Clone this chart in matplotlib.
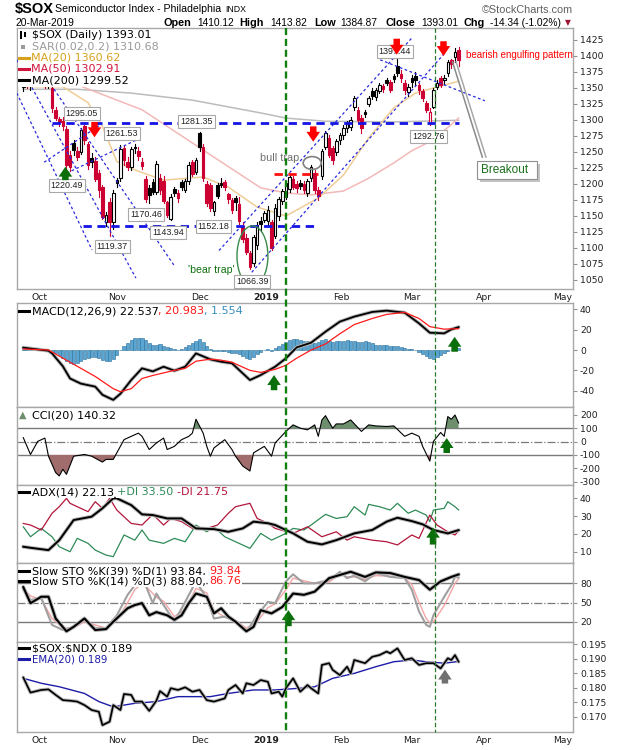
import numpy as np
import matplotlib
matplotlib.use('Agg')
import matplotlib.pyplot as plt
from matplotlib.patches import Rectangle, Ellipse, FancyArrowPatch
from matplotlib.lines import Line2D
import matplotlib.transforms as mtransforms

plt.rcParams['font.family'] = 'DejaVu Sans'

# ---------------- data ----------------
# x = trading-day index: 0 = 24-Sep-2018 ... 121 = 20-Mar-2019
opens = [1352, 1356, 1354, 1360, 1366, 1368, 1360, 1356, 1350, 1316,
         1301, 1298, 1286, 1246, 1264, 1252, 1250, 1290, 1262, 1240,
         1236, 1217, 1196, 1140, 1172, 1140, 1206, 1210, 1257, 1235,
         1226, 1258, 1252, 1234, 1208, 1194, 1203, 1188, 1209, 1205,
         1172, 1146, 1192, 1186, 1203, 1191, 1204, 1234, 1219, 1280,
         1258, 1200, 1198, 1158, 1198, 1202, 1203, 1184, 1175, 1178,
         1168, 1135, 1115, 1092, 1076, 1105, 1142, 1144, 1142, 1140,
         1118, 1150, 1174, 1180, 1192, 1208, 1200, 1202, 1200, 1186,
         1209, 1217, 1190, 1212, 1258, 1272, 1256, 1250, 1268, 1276,
         1288, 1289, 1320, 1315, 1303, 1312, 1325, 1345, 1336, 1346,
         1353, 1363, 1359, 1368, 1384, 1372, 1358, 1344, 1366, 1368,
         1355, 1345, 1326, 1296, 1320, 1352, 1365, 1362, 1373, 1393,
         1398, 1410.12]
highs = [1362, 1366, 1362, 1372, 1374, 1376, 1365, 1366, 1352, 1320,
         1305, 1304, 1290, 1252, 1268, 1258, 1287, 1295.05, 1265, 1248,
         1242, 1222, 1198, 1156, 1178, 1190, 1210, 1261.53, 1260, 1242,
         1258, 1262, 1258, 1240, 1212, 1198, 1208, 1236, 1215, 1212,
         1174, 1184, 1196, 1190, 1206, 1208, 1234, 1238, 1240, 1281.35,
         1262, 1205, 1202, 1174, 1202, 1210, 1206, 1186, 1178, 1182,
         1180, 1140, 1122, 1095, 1120, 1140, 1148, 1158, 1166, 1143,
         1168, 1180, 1192, 1204, 1214, 1212, 1204, 1206, 1204, 1208,
         1230, 1222, 1196, 1255, 1283, 1276, 1260, 1270, 1280, 1292,
         1298, 1304, 1338, 1320, 1308, 1315, 1338, 1350, 1350, 1358,
         1356, 1366, 1362, 1372, 1397.44, 1378, 1362, 1356, 1370, 1375,
         1358, 1348, 1330, 1318, 1350, 1362, 1368, 1370, 1393, 1396,
         1412, 1413.82]
lows = [1346, 1350, 1347, 1355, 1358, 1360, 1350, 1350, 1312, 1300,
        1290, 1284, 1225, 1220.49, 1245, 1238, 1247, 1262, 1224, 1226,
        1205, 1180, 1145, 1135, 1119.37, 1130, 1195, 1205, 1230, 1222,
        1222, 1248, 1238, 1224, 1172, 1170.46, 1185, 1184, 1185, 1170,
        1148, 1143.94, 1182, 1172, 1190, 1188, 1200, 1212, 1216, 1252,
        1205, 1165, 1158, 1152.18, 1178, 1195, 1190, 1170, 1155, 1160,
        1138, 1110, 1090, 1066.39, 1072, 1098, 1128, 1140, 1136, 1097,
        1115, 1144, 1168, 1176, 1188, 1192, 1188, 1192, 1186, 1182,
        1205, 1186, 1175, 1208, 1255, 1242, 1232, 1246, 1262, 1270,
        1282, 1284, 1316, 1296, 1280, 1305, 1322, 1333, 1332, 1342,
        1344, 1354, 1344, 1360, 1368, 1360, 1340, 1338, 1352, 1355,
        1340, 1330, 1312, 1292.76, 1318, 1348, 1352, 1356, 1368, 1382,
        1390, 1384.87]
closes = [1356, 1353, 1359, 1368, 1364, 1362, 1355, 1362, 1318, 1303,
          1297, 1290, 1229, 1226, 1253, 1242, 1284, 1268, 1230, 1234,
          1208, 1190, 1148, 1152, 1140, 1186, 1201, 1255, 1238, 1226,
          1254, 1256, 1244, 1228, 1176, 1183, 1188, 1232, 1190, 1174,
          1152, 1180, 1186, 1178, 1196, 1204, 1230, 1215, 1238, 1258,
          1209, 1170, 1162, 1172, 1182, 1198, 1195, 1176, 1160, 1172,
          1142, 1114, 1093, 1070, 1117, 1136, 1138, 1154, 1160, 1100,
          1163, 1176, 1189, 1202, 1211, 1196, 1194, 1197, 1190, 1205,
          1226, 1190, 1182, 1252, 1280, 1246, 1238, 1267, 1276, 1288,
          1294, 1300, 1334, 1300, 1288, 1309, 1334, 1338, 1347, 1354,
          1349, 1358, 1347, 1364, 1373, 1365, 1347, 1352, 1360, 1362,
          1347, 1335, 1316, 1312, 1347, 1358, 1355, 1366, 1391, 1388,
          1406, 1393.01]

ma20_x = [0, 11, 18, 22, 26, 31, 39, 50, 57, 65, 73, 82, 89, 96, 103, 109, 114, 121]
ma20_y = [1352, 1352, 1327, 1290, 1235, 1222, 1206, 1211, 1195, 1164, 1150, 1178, 1214, 1272, 1319, 1342, 1350, 1360.62]
ma50_x = [0, 15, 33, 50, 66, 73, 80, 89, 96, 103, 108, 114, 121]
ma50_y = [1368, 1355, 1316, 1253, 1194, 1186, 1183, 1189, 1209, 1233, 1252, 1269, 1302.91]
ma200_x = [0, 15, 30, 47, 66, 73, 84, 103, 121]
ma200_y = [1348, 1348, 1342, 1331, 1311, 1303, 1298, 1297, 1299.52]

macd_x = [0, 7, 8, 11, 13, 16, 20, 22, 25, 27, 30, 33, 36, 39, 42, 45, 48, 52, 55, 58, 63, 66,
          70, 73, 76, 80, 84, 88, 92, 97, 101, 106, 110, 113, 117, 119, 121]
macd_y = [2.3, -0.7, -3.3, -16, -28, -33, -36, -44, -49, -43, -29.5, -18, -21, -16.4, -20.3, -16.4,
          -3.3, -9.2, -11.5, -13, -29.5, -24.6, -16.4, -8.2, 2.6, 7.2, 18, 27.9, 32.8, 37.4, 38.7,
          36.7, 26.2, 17, 16.4, 20.3, 22.537]
signal_x = [0, 7, 11, 16, 20, 25, 27, 30, 33, 36, 42, 45, 48, 52, 55, 58, 63, 66, 70, 73, 76, 80,
            84, 88, 92, 97, 101, 106, 110, 113, 117, 121]
signal_y = [1, 0, -8, -18, -26, -38, -41, -38, -28, -25, -20, -18, -11, -9, -10, -12, -20, -22, -19,
            -15, -8, 0, 6, 16, 25, 31, 35, 37, 31, 23, 20.5, 20.983]
macd_hist = [1.5, 1.5, 1.2, 1.0, 0.8, 0.5, 0, -0.5, -1.5, -3,
             -5, -8, -11, -13, -14, -13, -11, -9, -8, -7,
             -7, -8, -10, -11, -11, -9, -5, 0, 4, 7,
             10, 11.5, 12, 11.5, 10, 7, 5, 5, 6, 4,
             3, 2, 1, 0.5, 1, 3, 5, 7, 9, 10.5,
             8, 4, 1, -1, -1, -0.5, -1, -2, -3, -3,
             -4, -6, -8, -9, -7, -4, -2, 0, 1, -1,
             2, 4, 6, 8, 10, 11, 11, 10, 9, 9,
             8, 7, 8, 10, 11, 9, 8, 9, 9, 9,
             10, 9, 9, 8, 8, 9, 8, 7, 5, 5,
             5, 5, 4, 4, 4, 3, 2, 1, 1, 0,
             -2, -4, -6, -8, -9, -7, -5, -3, -1, 0.5,
             1.5, 1.554]

cci_x = [0, 2, 4, 6, 7, 9, 10, 11, 12, 14, 17, 19, 22, 23, 25, 28, 30, 32, 33, 35, 37, 39, 40, 42,
         44, 46, 47, 48, 50, 51, 52, 53, 56, 58, 59, 61, 63, 64, 67, 69, 70, 73, 75, 77, 79, 81, 82,
         83, 84, 86, 87, 89, 91, 94, 96, 98, 101, 103, 106, 108, 110, 111, 113, 114, 116, 117, 118,
         119, 120, 121]
cci_y = [30, -96, 2, 27, -109, -232, -257, -207, -245, -109, -96, -109, -153, -133, -133, 15, 40, 64,
         40, -59, -10, 27, -59, -35, 15, 40, 64, 168, 64, -35, -109, -47, 15, -59, -109, -183, -220,
         -84, -35, -109, -10, 77, 126, 101, 89, 126, 40, 163, 195, 101, 133, 133, 163, 77, 126, 118,
         114, 118, 40, 64, 40, -35, -146, 2, 69, 40, 188, 168, 200, 140.32]

adx_x = [0, 2, 7, 10, 14, 19, 22, 25, 26, 30, 33, 36, 40, 44, 48, 53, 57, 61, 64, 68, 70, 75, 79,
         83, 87, 92, 97, 101, 104, 108, 111, 114, 118, 121]
adx_y = [12.8, 12.2, 10.9, 16.5, 27.8, 29.7, 34.4, 40, 40, 36.2, 31, 30.6, 28.7, 28.7, 23.1, 22.7,
         21.2, 23.1, 26.9, 26, 25, 20.3, 15.6, 14.1, 16.5, 20.3, 22.2, 26.9, 29.1, 27.2, 25.4, 22.2,
         20.3, 22.13]
pdi_x = [0, 2, 5, 8, 10, 13, 15, 18, 20, 23, 25, 28, 31, 33, 35, 39, 42, 45, 48, 51, 53, 56, 59,
         63, 66, 69, 73, 75, 78, 80, 84, 87, 90, 92, 95, 96, 99, 102, 104, 107, 109, 112, 113, 114,
         117, 118, 120, 121]
pdi_y = [24, 18.4, 23.1, 18.4, 12.8, 10, 17.5, 14.7, 10.9, 8.1, 7.2, 19.4, 16.5, 22.2, 16.5, 14.7,
         17.5, 15.6, 25, 21.2, 24, 18.4, 15.6, 11.9, 20.3, 16.5, 20.3, 23.1, 22.2, 25, 31, 28.7, 29.7,
         35.3, 30.6, 36.6, 35.3, 33.4, 37.2, 31.6, 33.4, 30.6, 26.9, 33.4, 34.4, 38.1, 35.3, 33.5]
mdi_x = [0, 2, 5, 8, 10, 12, 13, 15, 18, 20, 22, 24, 26, 30, 33, 36, 39, 41, 44, 47, 51, 54, 57,
         59, 63, 65, 68, 70, 75, 79, 83, 87, 90, 92, 97, 101, 104, 108, 110, 113, 115, 118, 120, 121]
mdi_y = [25.9, 25, 22.2, 31.6, 35.3, 40, 37.2, 35.3, 32.5, 38.1, 34.4, 40, 33.4, 25.9, 25, 31, 25,
         28.7, 26.9, 23.1, 23.1, 25, 31.6, 35.3, 37.2, 28.7, 26, 23.1, 20.3, 24, 18.4, 21.2, 16.5,
         18.4, 16.5, 15.6, 13.8, 19.4, 17.5, 30.6, 25, 21.2, 19.4, 21.75]

sto39_x = [0, 2, 5, 7, 9, 12, 14, 17, 20, 23, 25, 29, 31, 33, 35, 37, 40, 42, 44, 46, 48, 51, 53,
           55, 57, 59, 62, 64, 66, 69, 72, 75, 78, 81, 85, 88, 91, 95, 98, 102, 106, 110, 113, 116,
           119, 121]
sto39_y = [74, 49, 59, 59, 25, 5, 12, 25, 7, 8.5, 20, 41, 46, 49, 30, 35, 30, 23, 30, 49, 64, 59,
           33, 41, 28, 20, 5, 12, 38, 33, 43, 64, 62, 67, 88, 93, 98, 90, 97, 96, 90, 85, 70, 83, 90,
           93.84]
sto14_x = [0, 2, 5, 8, 11, 14, 17, 20, 23, 26, 29, 31, 32, 34, 36, 37, 39, 42, 45, 48, 51, 53, 56,
           59, 62, 65, 68, 70, 73, 75, 78, 81, 85, 88, 90, 92, 95, 98, 102, 106, 108, 110, 112, 113,
           114, 117, 119, 120, 121]
sto14_y = [70, 54, 57, 15, 7, 12, 26, 10, 10, 30, 62, 77, 83, 77, 49, 64, 46, 20, 51, 83, 57, 25,
           28, 20, 4, 30, 51, 49, 83, 94, 80, 80, 85, 98, 88, 92, 83, 96, 90, 88, 70, 36, 15, 12, 30,
           59, 77, 90, 88.90]
sto14d_x = [0, 2, 5, 8, 11, 14, 17, 20, 23, 26, 29, 31, 33, 35, 37, 39, 42, 45, 48, 51, 53, 56, 59,
            62, 65, 68, 70, 73, 75, 78, 81, 85, 88, 90, 92, 95, 98, 102, 106, 108, 110, 112, 113,
            114, 117, 119, 120, 121]
sto14d_y = [72, 60, 55, 25, 10, 10, 20, 15, 10, 22, 50, 70, 80, 70, 58, 52, 28, 40, 72, 65, 38, 27,
            22, 10, 20, 42, 48, 70, 88, 84, 80, 82, 94, 90, 90, 86, 92, 91, 88, 78, 50, 25, 18, 20,
            45, 68, 80, 86.76]

ratio_x = [0, 1, 2, 5, 7, 9, 11, 13, 15, 17, 19, 21, 22, 24, 25, 27, 28, 30, 31, 33, 35, 37, 38,
           40, 41, 43, 45, 47, 49, 51, 53, 56, 57, 59, 61, 62, 64, 66, 68, 69, 71, 72, 73, 75, 77,
           79, 80, 82, 83, 85, 86, 88, 90, 91, 92, 95, 97, 99, 101, 102, 104, 106, 108, 110, 112,
           114, 116, 118, 119, 120, 121]
ratio_y = [0.1835, 0.1809, 0.1783, 0.1792, 0.1794, 0.1775, 0.1757, 0.1755, 0.1752, 0.1740, 0.1723,
           0.1717, 0.1671, 0.1683, 0.1740, 0.1723, 0.1778, 0.1775, 0.1752, 0.1752, 0.1720, 0.1755,
           0.1788, 0.1769, 0.1798, 0.1792, 0.1801, 0.1786, 0.1792, 0.1757, 0.1752, 0.1763, 0.1792,
           0.1809, 0.1780, 0.1815, 0.1809, 0.1826, 0.1820, 0.1780, 0.1786, 0.1769, 0.1798, 0.1832,
           0.1786, 0.1809, 0.1798, 0.1780, 0.1878, 0.1884, 0.1861, 0.1843, 0.1872, 0.1849, 0.1895,
           0.1884, 0.1906, 0.1912, 0.1924, 0.1918, 0.1935, 0.1895, 0.1901, 0.1878, 0.1884, 0.1884,
           0.1866, 0.1901, 0.1895, 0.1912, 0.1889]
ema_x = [0, 5, 10, 17, 21, 25, 31, 37, 43, 52, 57, 64, 70, 77, 81, 86, 92, 98, 103, 108, 112, 117, 121]
ema_y = [0.1832, 0.1815, 0.1803, 0.1780, 0.1752, 0.1734, 0.1746, 0.1752, 0.1769, 0.1769, 0.1780,
         0.1792, 0.1792, 0.1798, 0.1803, 0.1832, 0.1849, 0.1872, 0.1889, 0.1895, 0.1889, 0.1884,
         0.1890]

month_pos = [4.5, 26, 49, 67.5, 88.5, 108, 128, 150]
month_lab = ['Oct', 'Nov', 'Dec', '2019', 'Feb', 'Mar', 'Apr', 'May']

# price notes: (day index, price where the box sits, text)
price_notes = [(16.3, 1310, '1295.05'), (27.4, 1279, '1261.53'), (12.1, 1198, '1220.49'),
               (24.7, 1102, '1119.37'), (34.1, 1152, '1170.46'), (40.2, 1124, '1143.94'),
               (48.1, 1297, '1281.35'), (52.9, 1133, '1152.18'), (63.6, 1048, '1066.39'),
               (103.3, 1407, '1397.44'), (112.6, 1274.5, '1292.76')]

# hand drawn trend lines (day index, price)
steep_lines = [((-1.8, 1394), (31.3, 1053)), ((7.7, 1355), (41.9, 1073)), ((-1.8, 1342), (19.1, 1097)),
               ((5.8, 1234), (21.3, 1292)), ((12.1, 1217), (33, 1273)),
               ((54.4, 1096), (108.3, 1430)), ((63.5, 1062), (117.2, 1405)), ((99.2, 1394), (128.3, 1330))]

W, H = 620, 750
XL = (-1.86, 152.8)
RED = '#cc0033'


def fx(x):
    return x / W


def fy(y):
    return 1 - y / H


fig = plt.figure(figsize=(W / 100, H / 100), dpi=100)
renderer = fig.canvas.get_renderer()


def panel(top, bottom, ylim, yticks, fmt='%g'):
    ax = fig.add_axes([fx(16.6), fy(bottom), fx(573) - fx(16.6), (bottom - top) / H])
    ax.set_xlim(*XL)
    ax.set_ylim(*ylim)
    ax.yaxis.tick_right()
    ax.set_yticks(yticks)
    ax.set_yticklabels([fmt % v for v in yticks])
    ax.tick_params(axis='y', length=3, width=0.8, color='#909090', labelsize=6.7, pad=2,
                   labelcolor='#202020')
    ax.set_xticks([])
    for s in ax.spines.values():
        s.set_color('#a8a8a8')
        s.set_linewidth(1)
    return ax


def months(ax):
    ax.set_xticks(month_pos)
    ax.set_xticklabels(month_lab)
    ax.tick_params(axis='x', length=0, labelsize=6.7, pad=3, labelcolor='#202020')
    for t in ax.get_xticklabels():
        if t.get_text() == '2019':
            t.set_fontweight('bold')


def arrow(ax, x, tip, base, color):
    ax.add_patch(FancyArrowPatch((x, base), (x, tip),
                                 arrowstyle='simple,head_width=0.75,head_length=0.55,tail_width=0.36',
                                 mutation_scale=13, color=color, lw=0, shrinkA=0, shrinkB=0, zorder=7))


def text_width(s, size, family, weight='normal'):
    t = fig.text(0, 0, s, fontsize=size, family=family, weight=weight)
    w = t.get_window_extent(renderer=renderer).width
    t.remove()
    return w


def pieces(x, y, parts, size=8, dash=None, bg=True, family='DejaVu Sans'):
    # each part is right-aligned at the end of the running string, so spaces are kept
    if dash:
        fig.add_artist(Line2D([fx(x), fx(x + 10)], [fy(y), fy(y)], color=dash, lw=2.2, zorder=4))
        x += 12
    cum = ''
    for s, c in parts:
        cum += s
        w = text_width(cum, size, family)
        kw = dict(bbox=dict(fc='white', ec='none', pad=0.6)) if bg else {}
        fig.text(fx(x + w), fy(y), s.strip(), color=c, fontsize=size, family=family, ha='right',
                 va='center', zorder=4, **kw)


def gline(ax, xs, ys, color, lw, shadow=False):
    if shadow:
        ax.plot(xs, ys, color='#b8b8b8', lw=lw + 1.4, solid_capstyle='round', zorder=2)
    ax.plot(xs, ys, color=color, lw=lw, zorder=3)


# ---------------- price panel ----------------
ax = panel(28, 289, (1035.9, 1443.75), list(range(1050, 1426, 25)), '%d')
months(ax)
ax.plot(ma200_x, ma200_y, color='#bcbcbc', lw=1.1, zorder=2)
ax.plot(ma50_x, ma50_y, color='#f3b8b8', lw=1.1, zorder=2)
ax.plot(ma20_x, ma20_y, color='#f0cd96', lw=1.1, zorder=2)

for i in range(len(closes)):
    o, h, l, c = opens[i], highs[i], lows[i], closes[i]
    prev = closes[i - 1] if i else c
    col = RED if c < prev else 'black'
    lo_b, hi_b = min(o, c), max(o, c)
    if hi_b - lo_b < 1.6:
        hi_b = lo_b + 1.6
    ax.plot([i, i], [l, lo_b], color=col, lw=0.8, zorder=3)
    ax.plot([i, i], [hi_b, h], color=col, lw=0.8, zorder=3)
    fc = 'white' if c >= o else col
    ax.add_patch(Rectangle((i - 0.36, lo_b), 0.72, hi_b - lo_b, fc=fc, ec=col, lw=0.8, zorder=3))

for (x0, y0), (x1, y1) in steep_lines:
    ax.plot([x0, x1], [y0, y1], color='#2a2ae0', lw=0.9, ls=(0, (2.2, 2)), zorder=4)
ax.plot([8, 121], [1295, 1295], color='#1414e6', lw=2, ls=(0, (3, 2)), zorder=4)
ax.plot([16.6, 80.8], [1135, 1135], color='#1414e6', lw=2, ls=(0, (3, 2)), zorder=4)
ax.plot([69.7, 81.9], [1216, 1216], color='#ff1010', lw=2, ls=(0, (3, 2)), zorder=4)

for xi, yp, s in price_notes:
    ax.text(xi, yp, s, fontsize=6.4, family='Liberation Sans', ha='center', va='center', color='#202020',
            bbox=dict(boxstyle='square,pad=0.22', fc='white', ec='#a8a8a8', lw=0.8), zorder=6)

for xi, tip, base in [(19.8, 1273, 1297), (80.6, 1266, 1290), (103.8, 1402, 1427), (116.8, 1400, 1423)]:
    arrow(ax, xi, tip, base, '#ff0000')
arrow(ax, 11.7, 1227, 1206, '#0a6e0a')

ax.add_patch(Ellipse((63.7, 1087.5), 8.6, 94, fill=False, ec='#3a8a4a', lw=1, zorder=5))
ax.add_patch(Ellipse((80.3, 1232.8), 5, 20, fill=False, ec='#808080', lw=1.2, zorder=5))
ax.text(80.3 - 3.6, 1240, 'bull trap', fontsize=7.8, family='Liberation Sans', color='#707070',
        ha='right', va='center', zorder=6)
ax.text(52.4, 1066, "'bear trap'", fontsize=7.6, family='Liberation Sans', color='#107010',
        ha='center', va='center', zorder=6)
ax.text(123, 1402, 'bearish engulfing pattern', fontsize=7.0, family='Liberation Sans',
        color='#ff0000', ha='left', va='center', zorder=6, clip_on=False)
ax.plot([119.3, 127.6], [1391, 1242], color='#8a8a8a', lw=1.1, zorder=5)
ax.plot([120.3, 128.6], [1391, 1242], color='#a8a8a8', lw=1.1, zorder=5)

# ---------------- MACD ----------------
axm = panel(303, 407, (-56, 46.2), [-40, -20, 0, 20, 40])
axm.bar(range(len(macd_hist)), macd_hist, width=0.85, color='#5aa5d2', edgecolor='#2a6f9a', lw=0.4,
        zorder=2)
gline(axm, macd_x, macd_y, 'black', 1.3, shadow=True)
axm.plot(signal_x, signal_y, color='#ff1a1a', lw=0.9, zorder=3)
arrow(axm, 69.7, -24.6, -39.5, '#0a6e0a')
arrow(axm, 119.9, 13, -1.7, '#0a6e0a')

# ---------------- CCI ----------------
axc = panel(407, 485, (-325, 260), [-300, -200, -100, 0, 100, 200])
for lv in (100, -100):
    axc.axhline(lv, color='#7a7a7a', lw=1, zorder=1)
axc.axhline(0, color='#7a7a7a', lw=0.9, ls='-.', zorder=1)
cx, cy = np.array(cci_x), np.array(cci_y)
axc.fill_between(cx, cy, 100, where=cy > 100, interpolate=True, color='#6e8f6e', lw=0, zorder=2)
axc.fill_between(cx, cy, -100, where=cy < -100, interpolate=True, color='#a06c6c', lw=0, zorder=2)
axc.plot(cx, cy, color='black', lw=0.8, zorder=3)
arrow(axc, 117.7, 27, -85, '#0a6e0a')

# ---------------- ADX ----------------
axa = panel(485, 563, (3.65, 47.5), [10, 20, 30, 40])
axa.plot(pdi_x, pdi_y, color='#2e8b57', lw=0.9, zorder=2)
axa.plot(mdi_x, mdi_y, color='#b3163c', lw=0.9, zorder=2)
gline(axa, adx_x, adx_y, 'black', 1.4, shadow=True)
arrow(axa, 113.9, 23.5, 14, '#0a6e0a')

# ---------------- Slow STO ----------------
axs = panel(563, 642, (-11.7, 111.7), [20, 50, 80])
for lv in (80, 20):
    axs.axhline(lv, color='#7a7a7a', lw=1, zorder=1)
axs.axhline(50, color='#7a7a7a', lw=0.9, ls='-.', zorder=1)
axs.plot(sto14d_x, sto14d_y, color='#f4a5a5', lw=1, zorder=2)
axs.plot(sto14_x, sto14_y, color='#a0a0a0', lw=1.5, zorder=2)
gline(axs, sto39_x, sto39_y, 'black', 1.5, shadow=True)
arrow(axs, 73.7, 38, 13, '#0a6e0a')

# ---------------- SOX:NDX ----------------
axr = panel(642, 732, (0.16474, 0.19569), [0.170, 0.175, 0.180, 0.185, 0.190, 0.195], '%.3f')
months(axr)
axr.plot(ema_x, ema_y, color='#1c1ca8', lw=1, zorder=2)
gline(axr, ratio_x, ratio_y, 'black', 1.2, shadow=True)
arrow(axr, 117.2, 0.1862, 0.1814, '#707070')

# ---------------- vertical date markers ----------------
trans = mtransforms.blended_transform_factory(ax.transData, fig.transFigure)
fig.add_artist(Line2D([73.1, 73.1], [fy(28), fy(732)], transform=trans, color='#118011', lw=1.7,
                      ls=(0, (3, 1.6)), zorder=2))
fig.add_artist(Line2D([114.5, 114.5], [fy(28), fy(732)], transform=trans, color='#2b7a2b', lw=0.9,
                      ls=(0, (3.5, 2)), zorder=2))

# ---------------- legends ----------------
fig.add_artist(Rectangle((fx(17.5), fy(86.5)), fx(134) - fx(17.5), (86.5 - 29) / H,
                         transform=fig.transFigure, fc='white', ec='none', zorder=3))
fig.add_artist(Rectangle((fx(20), fy(39)), 2 / W, 8 / H, transform=fig.transFigure, fc='black', zorder=4))
fig.add_artist(Rectangle((fx(24), fy(37)), 2 / W, 5 / H, transform=fig.transFigure, fc='black', zorder=4))
pieces(31.6, 35, [(r'\$SOX (Daily) 1393.01', 'black')], bg=False)
pieces(31.6, 46.3, [('SAR(0.02,0.2) 1310.68', '#9a9a9a')], bg=False)
fig.add_artist(Rectangle((fx(21), fy(48.5)), 3.5 / W, 3.5 / H, transform=fig.transFigure, fc='#9a9a9a',
                         zorder=4))
pieces(19.5, 57.6, [('MA(20) 1360.62', '#d6a21e')], dash='#d6a21e', bg=False)
pieces(19.5, 68.9, [('MA(50) 1302.91', '#d0143c')], dash='#d0143c', bg=False)
pieces(19.5, 80.2, [('MA(200) 1299.52', 'black')], dash='black', bg=False)

pieces(19.5, 311, [('MACD(12,26,9) 22.537', 'black'), (', 20.983', '#ff1a1a'), (', 1.554', '#3a8fc0')],
       dash='black')
fig.text(fx(19), fy(415), '\u25b2', color='#6e8f6e', fontsize=7, ha='left', va='center')
pieces(31.6, 415, [('CCI(20) 140.32', 'black')])
pieces(19.5, 492.3, [('ADX(14) 22.13', 'black'), (' +DI 33.50', '#2e8b57'), (' -DI 21.75', '#b3163c')],
       dash='black')
pieces(19.5, 571, [('Slow STO %K(39) %D(1) 93.84,', 'black'), (' 93.84', '#ff1a1a')], dash='black')
pieces(19.5, 581, [('Slow STO %K(14) %D(3) 88.90,', 'black'), (' 86.76', '#ff1a1a')], dash='black')
pieces(19.5, 648.3, [(r'\$SOX:\$NDX 0.189', 'black')], dash='black')
pieces(19.5, 659.3, [('EMA(20) 0.189', '#1c1ca8')], dash='#1c1ca8', size=7.4)

# ---------------- Breakout call-out ----------------
fig.add_artist(Rectangle((fx(479.5), fy(181.5)), 60 / W, 18 / H, transform=fig.transFigure,
                         fc='#c4c4c4', ec='none', zorder=4))
fig.add_artist(Rectangle((fx(477), fy(179)), 60 / W, 18 / H, transform=fig.transFigure,
                         fc='white', ec='#909090', lw=0.8, zorder=4))
fig.text(fx(481), fy(170), 'Breakout', fontsize=8.5, family='Liberation Sans', color='#1a6e1a',
         ha='left', va='center', zorder=5)

# ---------------- header ----------------
fig.text(fx(15), fy(9.5), r'\$SOX', fontsize=10.5, family='Liberation Sans', weight='bold',
         ha='left', va='center')
title = 'Semiconductor Index - Philadelphia'
fig.text(fx(55), fy(9.5), title, fontsize=7.6, family='Liberation Sans', ha='left', va='center')
fig.text(fx(55 + text_width(title, 7.6, 'Liberation Sans') + 4), fy(10), 'INDX', fontsize=6.3,
         family='Liberation Sans', ha='left', va='center')
fig.text(fx(573), fy(10), '\u00a9StockCharts.com', fontsize=7.8, family='Liberation Sans',
         color='#606060', ha='right', va='center')
fig.text(fx(16), fy(22.7), '20-Mar-2019', fontsize=7.4, family='Liberation Sans', ha='left', va='center')
for xp, s, bold in [(164, 'Open', True), (197.6, '1410.12', False), (239, 'High', True),
                    (270, '1413.82', False), (314, 'Low', True), (340, '1384.87', False),
                    (385, 'Close', True), (421, '1393.01', False), (464, 'Chg', True),
                    (490, '-14.34 (-1.02%)', False)]:
    fig.text(fx(xp), fy(22.7), s, fontsize=7.8 if bold else 7.4, family='Liberation Sans',
             weight='bold' if bold else 'normal', ha='left', va='center')
fig.text(fx(565), fy(23), '\u25bc', fontsize=5.5, color='#a01030', ha='left', va='center')

fig.savefig('out.png', dpi=100)
